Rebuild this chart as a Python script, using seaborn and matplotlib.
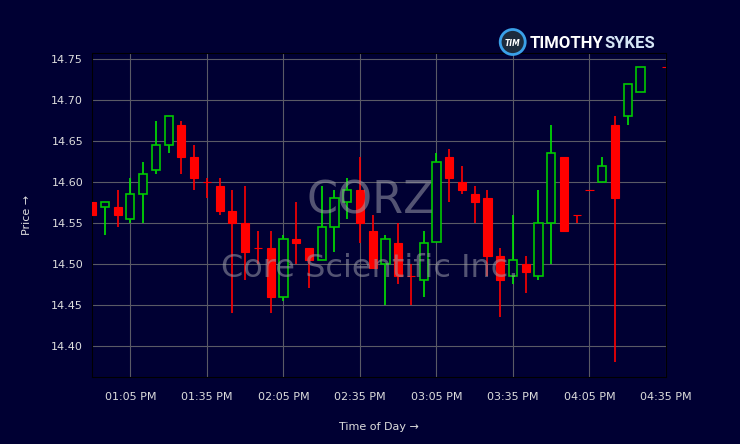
import pandas as pd
import numpy as np
import matplotlib
matplotlib.use("Agg")
import matplotlib.pyplot as plt
import matplotlib.dates as mdates
from matplotlib.patches import Ellipse
import seaborn as sns

# 5-minute candles, CORZ
times = ["12:50", "12:55", "13:00", "13:05", "13:10", "13:15", "13:20", "13:25", "13:30",
         "13:35", "13:40", "13:45", "13:50", "13:55", "14:00", "14:05", "14:10", "14:15",
         "14:20", "14:25", "14:30", "14:35", "14:40", "14:45", "14:50", "14:55", "15:00",
         "15:05", "15:10", "15:15", "15:20", "15:25", "15:30", "15:35", "15:40", "15:45",
         "15:50", "15:55", "16:00", "16:05", "16:10", "16:15", "16:20", "16:25", "16:35"]
opens = [14.575, 14.570, 14.570, 14.555, 14.585, 14.615, 14.645, 14.670, 14.630,
         14.600, 14.595, 14.565, 14.550, 14.520, 14.520, 14.460, 14.530, 14.520,
         14.505, 14.545, 14.575, 14.590, 14.540, 14.500, 14.525, 14.485, 14.480,
         14.527, 14.630, 14.600, 14.585, 14.580, 14.510, 14.485, 14.500, 14.485,
         14.550, 14.630, 14.560, 14.590, 14.600, 14.670, 14.680, 14.710, 14.740]
highs = [14.575, 14.575, 14.590, 14.605, 14.625, 14.675, 14.680, 14.675, 14.645,
         14.605, 14.605, 14.590, 14.595, 14.540, 14.540, 14.535, 14.575, 14.520,
         14.595, 14.590, 14.605, 14.630, 14.560, 14.535, 14.550, 14.500, 14.540,
         14.635, 14.640, 14.620, 14.595, 14.590, 14.520, 14.560, 14.510, 14.590,
         14.670, 14.630, 14.560, 14.590, 14.630, 14.680, 14.720, 14.740, 14.740]
lows = [14.560, 14.535, 14.545, 14.550, 14.550, 14.610, 14.635, 14.610, 14.590,
        14.580, 14.560, 14.440, 14.480, 14.500, 14.440, 14.455, 14.500, 14.470,
        14.505, 14.515, 14.555, 14.525, 14.495, 14.450, 14.475, 14.450, 14.460,
        14.527, 14.575, 14.585, 14.550, 14.485, 14.435, 14.475, 14.465, 14.480,
        14.500, 14.540, 14.550, 14.590, 14.600, 14.380, 14.670, 14.710, 14.740]
closes = [14.560, 14.575, 14.560, 14.585, 14.610, 14.645, 14.680, 14.630, 14.605,
          14.600, 14.565, 14.550, 14.515, 14.520, 14.460, 14.530, 14.525, 14.505,
          14.545, 14.580, 14.590, 14.550, 14.495, 14.530, 14.485, 14.485, 14.525,
          14.625, 14.605, 14.590, 14.575, 14.510, 14.480, 14.505, 14.490, 14.550,
          14.635, 14.540, 14.560, 14.590, 14.620, 14.580, 14.720, 14.740, 14.740]

df = pd.DataFrame({
    "time": pd.to_datetime(["2024-01-02 " + t for t in times]),
    "open": opens, "high": highs, "low": lows, "close": closes,
})
df["up"] = df["close"] > df["open"]

bg = "#000033"
sns.set_theme(style="dark", rc={
    "figure.facecolor": bg, "axes.facecolor": bg, "axes.edgecolor": "black",
    "text.color": "#dddddd", "axes.labelcolor": "#dddddd",
    "xtick.color": "#dddddd", "ytick.color": "#dddddd",
    "grid.color": "#5a5a66", "axes.grid": True,
})
plt.rcParams["font.family"] = ["DejaVu Sans"]

fig = plt.figure(figsize=(7.4, 4.44), dpi=100)
ax = fig.add_axes([0.1245, 0.151, 0.7755, 0.7305])

x = mdates.date2num(df["time"])
w = 3.2 / 1440
up = df[df["up"]]
dn = df[~df["up"]]
xu = mdates.date2num(up["time"])
xd = mdates.date2num(dn["time"])

# wicks
ax.vlines(xu, up["low"], up["high"], color="#00e600", lw=1.2, zorder=2)
ax.vlines(xd, dn["low"], dn["high"], color="#ff0000", lw=1.2, zorder=2)
# bodies
ax.bar(xd, dn["close"] - dn["open"], bottom=dn["open"], width=w,
       color="#ff0000", edgecolor="#ff0000", lw=0.8, zorder=3)
ax.bar(xu, up["close"] - up["open"], bottom=up["open"], width=w,
       color=bg, edgecolor="#00c800", lw=1.2, zorder=3)

lo, hi = df["low"].min(), df["high"].max()
pad = 0.05 * (hi - lo)
ax.set_ylim(lo - pad, hi + pad)
ax.set_xlim(x.min(), x.max())
ax.xaxis.set_major_locator(mdates.MinuteLocator(byminute=[5, 35]))
ax.xaxis.set_major_formatter(mdates.DateFormatter("%I:%M %p"))
ax.yaxis.set_major_locator(matplotlib.ticker.MultipleLocator(0.05))
ax.yaxis.set_major_formatter(matplotlib.ticker.FormatStrFormatter("%.2f"))
ax.tick_params(axis="both", labelsize=8, length=3, width=0.8, colors="#dddddd", direction="out")
ax.tick_params(axis="x", pad=8)
ax.grid(True, color="#5a5a66", lw=0.8)
for s in ax.spines.values():
    s.set_color("black")
    s.set_linewidth(0.8)

ax.set_xlabel("Time of Day \u2192", fontsize=8, labelpad=14)
ax.set_ylabel("Price \u2192", fontsize=8, labelpad=14)

# watermark
fig.text(0.5, 0.519, "CORZ", ha="center", va="baseline", fontsize=32,
         color="#9a9aa8", alpha=0.55, zorder=10)
fig.text(0.5, 0.377, "Core Scientific Inc.", ha="center", va="baseline", fontsize=23,
         color="#9a9aa8", alpha=0.55, zorder=10)

# logo
fig.add_artist(Ellipse((512.7 / 740, 1 - 42 / 444), 25 / 740, 25 / 444,
                       transform=fig.transFigure, facecolor="#1c2b3c",
                       edgecolor="#3aa0e8", lw=2))
fig.text(512.7 / 740, 1 - 43 / 444, "TIM", ha="center", va="center", fontsize=5.5,
         fontweight="bold", style="italic", color="white")
fig.text(530 / 740, 1 - 48 / 444, "TIMOTHY", ha="left", va="baseline",
         fontsize=12, fontweight="bold", family="Roboto", color="white")
fig.text(604 / 740, 1 - 48 / 444, "SYKES", ha="left", va="baseline",
         fontsize=12, fontweight="bold", family="Roboto", color="#d6e6f6")

fig.savefig("out.png", dpi=100, facecolor=bg)
